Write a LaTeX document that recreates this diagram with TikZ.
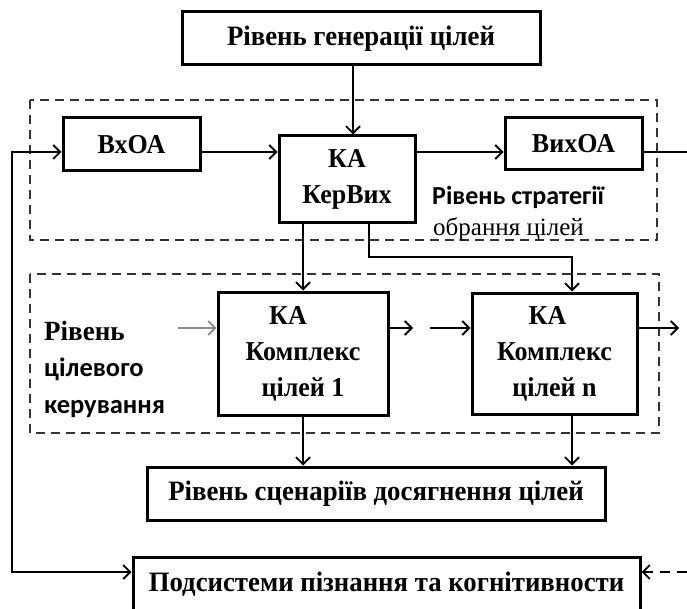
\documentclass[tikz,border=0pt]{standalone}
\usepackage{fontspec}
\setmainfont{Liberation Serif}
\newfontfamily\sfb{Carlito}
\usetikzlibrary{arrows.meta}
\newcommand{\vs}[1]{\scalebox{1}[1.05]{#1}}
\newcommand{\ws}[1]{\scalebox{1.03}[1.08]{#1}}
\begin{document}
\begin{tikzpicture}[x=1pt,y=-1pt,
  box/.style={draw=black, line width=3pt, fill=white, inner sep=0pt, align=center,
    font=\fontsize{26}{36}\selectfont\bfseries},
  conn/.style={line width=2pt, -{Straight Barb[length=7pt,width=14pt,line width=1.8pt]}},
  plainline/.style={line width=2pt},
  zone/.style={draw=black!80, line width=2.4pt, dash pattern=on 9pt off 6pt},
  lbl/.style={inner sep=0pt, anchor=west},
]
\useasboundingbox (0,0) rectangle (687,609);

% dashed zones
\draw[zone] (30,100) rectangle (657,240);
\draw[zone] (30,274) rectangle (659,433);

% boxes
\node[box, minimum width=358pt, minimum height=53pt] (gen) at (361,38.5) {\ws{Рівень генерації цілей}};
\node[box, minimum width=137pt, minimum height=53pt] (vx) at (131.5,144.5) {\vs{ВхОА}};
\node[box, minimum width=136pt, minimum height=87pt] (ker) at (347,179.5) {\vs{КА}\\\vs{КерВих}};
\node[box, minimum width=137pt, minimum height=52pt] (vix) at (573.5,144) {\vs{ВихОА}};
\node[box, minimum width=170pt, minimum height=123pt] (b1) at (303,353.5) {\vs{КА}\hspace*{30pt}\\\vs{Комплекс}\\\vs{цілей 1}};
\node[box, minimum width=165pt, minimum height=121pt] (bn) at (554.5,353.5) {\vs{КА}\hspace*{14pt}\\\vs{Комплекс}\\\vs{цілей n}};
\node[box, minimum width=458pt, minimum height=53pt] (scen) at (376,493.5) {\ws{Рівень сценаріїв досягнення цілей}};
\node[box, minimum width=507pt, minimum height=54pt] (pods) at (386.5,584) {\raisebox{3pt}{\ws{Подсистеми пізнання та когнітивности}}};

% labels
\node[lbl, font=\sfb\fontsize{26}{28}\selectfont\bfseries] (ls) at (432,197) {Рівень стратегії};
\node[lbl, font=\fontsize{25}{27}\selectfont] (lo) at (433,229) {обрання цілей};
\node[lbl, align=left, font=\fontsize{26.5}{36.5}\selectfont\bfseries] (lc) at (44,369)
  {\scalebox{1.02}[1.05]{Рівень}\\{\sfb цілевого}\\{\sfb керування}};

% helper coordinates
\coordinate (xg) at (353,0);
\coordinate (yl) at (0,152);
\coordinate (ym) at (0,328);
\coordinate (xk) at (369,0);
\coordinate (yk) at (0,257);
\coordinate (xn) at (572,0);
\coordinate (lt) at (12,152);
\coordinate (lb) at (12,572);
\coordinate (rout) at (687,152);
\coordinate (rin) at (687,572);
\coordinate (m1) at (413,328);
\coordinate (m2) at (430,328);
\coordinate (gin) at (178,328);
\coordinate (nout) at (679,328);

% connectors
\draw[conn] (gen.south -| xg) -- (ker.north -| xg);
\draw[conn] (vx.east |- yl) -- (ker.west |- yl);
\draw[conn] (ker.east |- yl) -- (vix.west |- yl);
\draw[plainline] (vix.east |- yl) -- (rout);
\draw[plainline, {Straight Barb[length=7pt,width=14pt,line width=1.8pt]}-{Straight Barb[length=7pt,width=14pt,line width=1.8pt]}]
  (vx.west |- yl) -- (lt) -- (lb) -- (pods.west |- lb);
\draw[conn, dash pattern=on 10pt off 7pt] (rin) -- (pods.east |- rin);
\draw[conn] (ker.south -| b1.north) -- (b1.north);
\draw[conn] (ker.south -| xk) -- (xk |- yk) -| (bn.north -| xn);
\draw[conn] (b1.east |- ym) -- (m1);
\draw[conn] (m2) -- (bn.west |- ym);
\draw[conn, draw=black!45] (gin) -- (b1.west |- ym);
\draw[conn] (bn.east |- ym) -- (nout);
\draw[conn] (b1.south) -- (b1.south |- scen.north);
\draw[conn] (bn.south -| xn) -- (xn |- scen.north);
\end{tikzpicture}
\end{document}
